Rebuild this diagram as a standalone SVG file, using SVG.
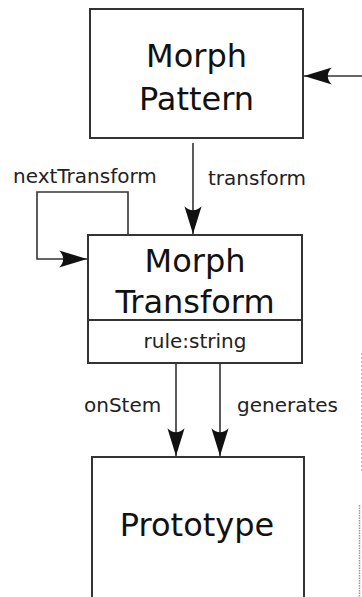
<svg xmlns="http://www.w3.org/2000/svg" width="362" height="597" viewBox="0 0 362 597">
  <style>
    .box { fill: #ffffff; stroke: #333333; stroke-width: 2; }
    .sep { stroke: #333333; stroke-width: 2; fill: none; }
    .edge { stroke: #333333; stroke-width: 1.6; fill: none; }
    .title { font-family: "DejaVu Sans", "Liberation Sans", sans-serif; font-size: 32px; fill: #111111; text-anchor: middle; }
    .attr { font-family: "DejaVu Sans", "Liberation Sans", sans-serif; font-size: 20px; fill: #222222; text-anchor: middle; }
    .label { font-family: "DejaVu Sans", "Liberation Sans", sans-serif; font-size: 20px; fill: #222222; }
    .frag1 { stroke: #bbbbbb; stroke-width: 1; stroke-dasharray: 2 2; fill: none; }
    .frag2 { stroke: #999999; stroke-width: 1.5; stroke-dasharray: 1.5 1; fill: none; }
  </style>
  <defs>
    <marker id="head" markerUnits="userSpaceOnUse" markerWidth="30" markerHeight="20" viewBox="-27 -9 28 18" refX="0" refY="0" orient="auto">
      <path d="M0,0 L-26,-8 C-21,-3 -21,3 -26,8 Z" fill="#111111"/>
    </marker>
  </defs>

  <rect width="362" height="597" fill="#ffffff"/>

  <g id="connectors">
    <!-- incoming reference from the right -->
    <line class="edge" x1="362" y1="76" x2="304" y2="76" marker-end="url(#head)"/>
    <!-- transform -->
    <line class="edge" x1="193" y1="143" x2="193" y2="234" marker-end="url(#head)"/>
    <!-- nextTransform self loop -->
    <polyline class="edge" points="128,235 128,192 37,192 37,259 87,259" marker-end="url(#head)"/>
    <!-- onStem -->
    <line class="edge" x1="176" y1="364" x2="176" y2="456" marker-end="url(#head)"/>
    <!-- generates -->
    <line class="edge" x1="220" y1="364" x2="220" y2="456" marker-end="url(#head)"/>
  </g>

  <g id="edge-labels">
    <text class="label" x="13" y="183">nextTransform</text>
    <text class="label" x="208" y="185">transform</text>
    <text class="label" x="84" y="412">onStem</text>
    <text class="label" x="237" y="412">generates</text>
  </g>

  <g id="morph-pattern">
    <rect class="box" x="90" y="9" width="213" height="129"/>
    <text class="title" x="196.5" y="67">Morph</text>
    <text class="title" x="196.5" y="110">Pattern</text>
  </g>

  <g id="morph-transform">
    <rect class="box" x="88" y="235" width="214" height="128"/>
    <line class="sep" x1="88" y1="320" x2="302" y2="320"/>
    <text class="title" x="195" y="272">Morph</text>
    <text class="title" x="195" y="313">Transform</text>
    <text class="attr" x="195" y="348">rule:string</text>
  </g>

  <g id="prototype">
    <rect class="box" x="92" y="457" width="212" height="160"/>
    <text class="title" x="197" y="536">Prototype</text>
  </g>

  <!-- edges of neighbouring elements cut off at the right border -->
  <g id="right-edge">
    <line class="frag1" x1="361.5" y1="353" x2="361.5" y2="473"/>
    <line class="frag2" x1="359.5" y1="505" x2="359.5" y2="597"/>
  </g>
</svg>
